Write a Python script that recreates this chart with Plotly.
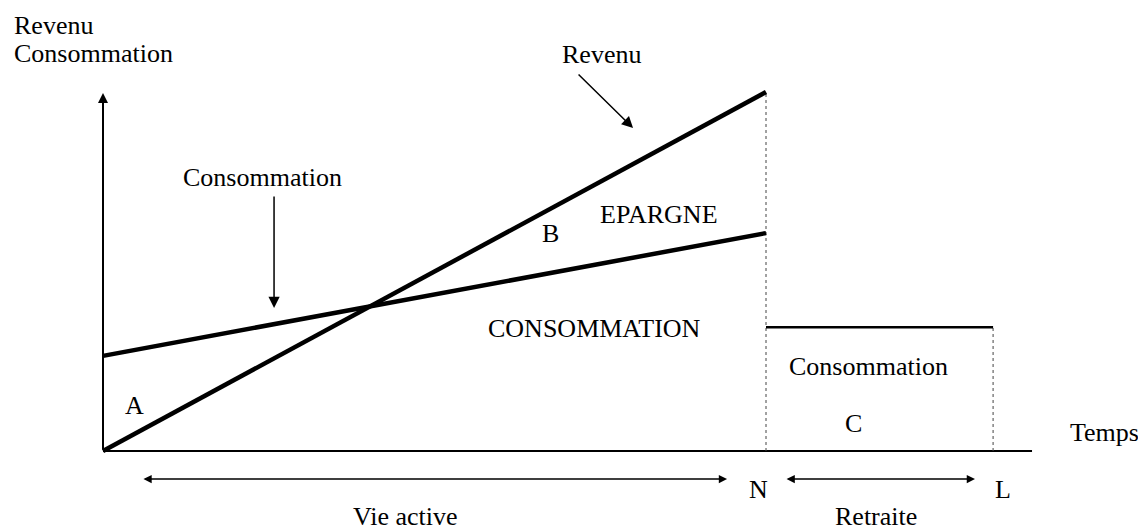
import plotly.graph_objects as go

# ---- data (abstract units: time on x, income/consumption on y) ----
N = 40.0          # end of working life
L = 53.7          # end of life
X_END = 56.05     # end of time axis
Y_TOP = 99.7      # top of vertical axis

work_time = [0.0, N]
revenu = [0.0, 100.0]
conso_active = [26.5, 60.7]
retire_time = [N, L]
conso_retraite = [34.5, 34.5]

FONT = dict(family="Liberation Serif, Times New Roman, serif", size=26, color="black")

fig = go.Figure()

# time axis
fig.add_trace(go.Scatter(x=[0, X_END], y=[0, 0], mode="lines",
                         line=dict(color="black", width=2), hoverinfo="skip"))
# dotted verticals
fig.add_trace(go.Scatter(x=[N, N], y=[0, revenu[-1]], mode="lines",
                         line=dict(color="#444", width=1, dash="dot"), hoverinfo="skip"))
fig.add_trace(go.Scatter(x=[L, L], y=[0, conso_retraite[-1]], mode="lines",
                         line=dict(color="#444", width=1, dash="dot"), hoverinfo="skip"))
# income
fig.add_trace(go.Scatter(x=work_time, y=revenu, mode="lines", name="Revenu",
                         line=dict(color="black", width=4.5)))
# consumption during working life
fig.add_trace(go.Scatter(x=work_time, y=conso_active, mode="lines", name="Consommation",
                         line=dict(color="black", width=4.5)))
# consumption during retirement
fig.add_trace(go.Scatter(x=retire_time, y=conso_retraite, mode="lines", name="Consommation retraite",
                         line=dict(color="black", width=2.5)))

ann = []
# vertical axis arrow
ann.append(dict(x=0, y=Y_TOP, ax=0, ay=0, xref="x", yref="y", axref="x", ayref="y",
                showarrow=True, arrowhead=2, arrowsize=1, arrowwidth=2, arrowcolor="black",
                standoff=0, text=""))
# Revenu pointer
ann.append(dict(x=31.98, y=89.97, ax=28.60, ay=105.29, xref="x", yref="y", axref="x", ayref="y",
                showarrow=True, arrowhead=2, arrowsize=1.5, arrowwidth=1.5, arrowcolor="black",
                standoff=0, text=""))
# Consommation pointer
ann.append(dict(x=10.32, y=39.83, ax=10.32, ay=71.31, xref="x", yref="y", axref="x", ayref="y",
                showarrow=True, arrowhead=2, arrowsize=1.5, arrowwidth=1.5, arrowcolor="black",
                standoff=0, text=""))
# double arrows
for x0, x1 in [(2.35, 37.65), (41.15, 52.61)]:
    ann.append(dict(x=x1, y=-7.8, ax=x0, ay=-7.8, xref="x", yref="y", axref="x", ayref="y",
                    showarrow=True, arrowhead=2, arrowside="end+start", startarrowhead=2,
                    arrowsize=1.1, startarrowsize=1.1, arrowwidth=1.5, arrowcolor="black",
                    standoff=0, startstandoff=0, text=""))

labels = [
    ("Revenu", -5.49, 118.66, "left"),
    ("Consommation", -5.49, 110.86, "left"),
    ("Revenu", 30.05, 110.58, "center"),
    ("Consommation", 9.65, 76.32, "center"),
    ("EPARGNE", 33.54, 65.74, "center"),
    ("B", 26.97, 60.72, "center"),
    ("CONSOMMATION", 29.68, 34.26, "center"),
    ("A", 1.87, 12.81, "center"),
    ("Consommation", 46.21, 23.40, "center"),
    ("C", 45.25, 7.80, "center"),
    ("Temps", 60.45, 5.29, "center"),
    ("N", 39.52, -10.86, "center"),
    ("L", 54.30, -10.86, "center"),
    ("Vie active", 18.28, -18.11, "center"),
    ("Retraite", 46.64, -18.11, "center"),
]
for t, x, y, xa in labels:
    ann.append(dict(text=t, x=x, y=y, xref="x", yref="y", showarrow=False,
                    xanchor=xa, yanchor="middle", font=FONT))

# scales: page body adds an 8px offset, so the origin sits at (95, 443) inside the figure
sx = 663 / N
sy = 359 / 100.0
OX, OY = 95, 443
W, H = 1146, 526
fig.update_layout(
    width=W, height=H,
    margin=dict(l=0, r=0, t=0, b=0),
    paper_bgcolor="white", plot_bgcolor="white",
    showlegend=False,
    annotations=ann,
    xaxis=dict(range=[-OX / sx, (W - OX) / sx], visible=False, fixedrange=True),
    yaxis=dict(range=[-(H - OY) / sy, OY / sy], visible=False, fixedrange=True),
)

fig.write_html("out.html")
